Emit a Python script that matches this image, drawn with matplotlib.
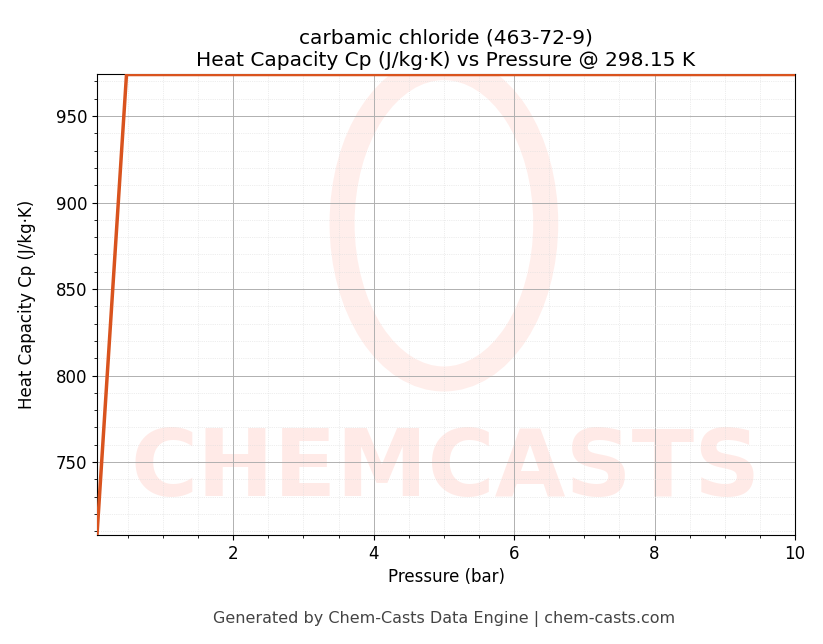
import matplotlib
matplotlib.use("Agg")
import matplotlib.pyplot as plt
from matplotlib.ticker import AutoMinorLocator
from matplotlib.patches import Ellipse

pressure = [0.06, 0.48, 1.0, 2.0, 4.0, 6.0, 8.0, 10.0]
cp = [708.0, 974.0, 974.0, 974.0, 974.0, 974.0, 974.0, 974.0]

fig = plt.figure(figsize=(8.23, 6.44), dpi=100)
ax = fig.add_axes([97/823, 1-535/644, (795-97)/823, (535-74)/644])

ax.text(0.5, 0.14, "CHEMCASTS", transform=ax.transAxes, fontsize=66, fontweight="bold",
        color="#ff5a3c", alpha=0.12, ha="center", va="center", zorder=0, clip_on=True)
ax.add_patch(Ellipse((5.0, 888), 2.9, 180, fill=False, lw=18, ec="#ff5a3c", alpha=0.1,
                     transform=ax.transData, zorder=0))

ax.plot(pressure, cp, color="#d9531e", lw=2.5, zorder=3)
ax.set_xlim(0.06, 10)
ax.set_ylim(707.8, 974.3)
ax.set_xticks([2, 4, 6, 8, 10])
ax.set_yticks([750, 800, 850, 900, 950])
ax.xaxis.set_minor_locator(AutoMinorLocator(4))
ax.yaxis.set_minor_locator(AutoMinorLocator(5))
ax.grid(which="major", color="#b0b0b0", lw=0.7)
ax.grid(which="minor", color="#dddddd", lw=0.5, ls=":")
ax.tick_params(labelsize=12)
ax.set_xlabel("Pressure (bar)", fontsize=12)
ax.set_ylabel("Heat Capacity Cp (J/kg·K)", fontsize=12, labelpad=14)
ax.set_title("carbamic chloride (463-72-9)\nHeat Capacity Cp (J/kg·K) vs Pressure @ 298.15 K",
             fontsize=14.5)
fig.text(0.54, 0.032, "Generated by Chem-Casts Data Engine | chem-casts.com", ha="center",
         fontsize=11.5, color="#444444")
fig.savefig("out.png", dpi=100)
